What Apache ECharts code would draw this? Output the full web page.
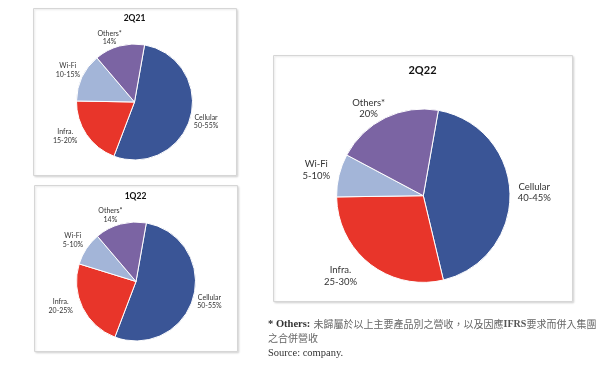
<!DOCTYPE html>
<html>
<head>
<meta charset="utf-8">
<script src="https://cdn.jsdelivr.net/npm/echarts@6/dist/echarts.min.js"></script>
<style>
html,body{margin:0;padding:0;background:#fff;}
#c{width:600px;height:365px;}
</style>
</head>
<body>
<div id="c"></div>
<script>
// ---- data ----
const categories = ['Cellular', 'Infra.', 'Wi-Fi', 'Others*'];
const periods = ['2Q21', '1Q22', '2Q22'];
const values2Q21 = [53, 19.5, 13.5, 14];
const values1Q22 = [53, 24, 9, 14];
const values2Q22 = [43.5, 28.5, 8, 20];
const labels2Q21 = ['50-55%', '15-20%', '10-15%', '14%'];
const labels1Q22 = ['50-55%', '20-25%', '5-10%', '14%'];
const labels2Q22 = ['40-45%', '25-30%', '5-10%', '20%'];

// ---- layout / style ----
const colors = ['#3a5596', '#e8352a', '#a3b5d8', '#7b64a3'];
const pies = [
  {values: values2Q21, labels: labels2Q21, cx: 134.5, cy: 102, r: 58, fs: 7, lh: 8.8, title: [134.5, 18.5], tfs: 8.5},
  {values: values1Q22, labels: labels1Q22, cx: 136, cy: 281.5, r: 59.5, fs: 7, lh: 8.8, title: [135.5, 196.5], tfs: 8.5},
  {values: values2Q22, labels: labels2Q22, cx: 423.3, cy: 195.7, r: 86.7, fs: 9.5, lh: 11.4, title: [422.5, 70], tfs: 11}
];
const startAngle = 80;            // ECharts degrees (10° clockwise from top)
const labelAngleNudge = [0, 8, 0, -6];
const labelDist = [1.28, 1.33, 1.27, 1.19];
const LABEL_FONT = 'Lato, "Open Sans", sans-serif';

function midAngles(vals) {
  const tot = vals.reduce((a, b) => a + b, 0);
  let acc = 90 - startAngle; // clockwise from top
  return vals.map(v => {
    const span = v / tot * 360;
    const m = acc + span / 2;
    acc += span;
    return m;
  });
}

const series = pies.map((p, si) => {
  const mids = midAngles(p.values);
  return {
    type: 'pie',
    center: [p.cx, p.cy],
    radius: p.r,
    startAngle: startAngle,
    clockwise: true,
    animation: false,
    avoidLabelOverlap: false,
    itemStyle: {borderColor: '#ffffff', borderWidth: 1},
    label: {
      show: true,
      position: 'outside',
      alignTo: 'none',
      overflow: 'none',
      fontFamily: LABEL_FONT,
      fontSize: p.fs,
      lineHeight: p.lh,
      color: '#333333',
      align: 'center',
      formatter: (prm) => prm.name + '\n' + p.labels[prm.dataIndex]
    },
    labelLine: {show: false},
    labelLayout: (prm) => {
      const i = prm.dataIndex;
      const a = (mids[i] + labelAngleNudge[i]) * Math.PI / 180;
      const d = p.r * labelDist[i];
      return {
        x: p.cx + d * Math.sin(a),
        y: p.cy - d * Math.cos(a),
        align: 'center',
        verticalAlign: 'middle'
      };
    },
    emphasis: {disabled: true},
    data: categories.map((c, i) => ({name: c, value: p.values[i], itemStyle: {color: colors[i]}}))
  };
});

const boxes = [
  [33, 8, 203, 167],
  [34, 185, 203, 166],
  [273, 55, 299, 246]
];

const graphic = [];
boxes.forEach(b => {
  graphic.push({
    type: 'rect', z: -10,
    shape: {x: b[0] + 0.5, y: b[1] + 0.5, width: b[2], height: b[3]},
    style: {fill: '#ffffff', stroke: '#d6d6d6', lineWidth: 1,
            shadowBlur: 2, shadowColor: 'rgba(0,0,0,0.12)', shadowOffsetX: 1, shadowOffsetY: 1}
  });
});
pies.forEach((p, i) => {
  graphic.push({
    type: 'text', z: 10,
    x: p.title[0], y: p.title[1],
    style: {text: periods[i], fontFamily: LABEL_FONT, fontWeight: 'bold', fontSize: p.tfs,
            fill: '#111', align: 'center', verticalAlign: 'middle'}
  });
});
graphic.push({
  type: 'text', z: 10, x: 268, y: 324,
  style: {
    text: '{b|* Others:} {c|未歸屬於以上主要產品別之營收，以及因應}{i|IFRS}{c|要求而併入集團}',
    verticalAlign: 'middle',
    rich: {
      b: {fontFamily: '"Liberation Serif", serif', fontWeight: 'bold', fontSize: 10.5, fill: '#333'},
      i: {fontFamily: '"Liberation Serif", serif', fontWeight: 'bold', fontSize: 10, fill: '#555'},
      c: {fontFamily: '"Noto Sans CJK TC", sans-serif', fontSize: 10, fill: '#666'}
    }
  }
});
graphic.push({
  type: 'text', z: 10, x: 268, y: 338,
  style: {text: '之合併營收', verticalAlign: 'middle',
          fontFamily: '"Noto Sans CJK TC", sans-serif', fontSize: 10, fill: '#666'}
});
graphic.push({
  type: 'text', z: 10, x: 268, y: 353,
  style: {text: 'Source: company.', verticalAlign: 'middle',
          fontFamily: '"Liberation Serif", serif', fontSize: 10.5, fill: '#333'}
});

const chart = echarts.init(document.getElementById('c'), null, {renderer: 'canvas'});
chart.setOption({
  backgroundColor: '#ffffff',
  animation: false,
  graphic: graphic,
  series: series
});
</script>
</body>
</html>
